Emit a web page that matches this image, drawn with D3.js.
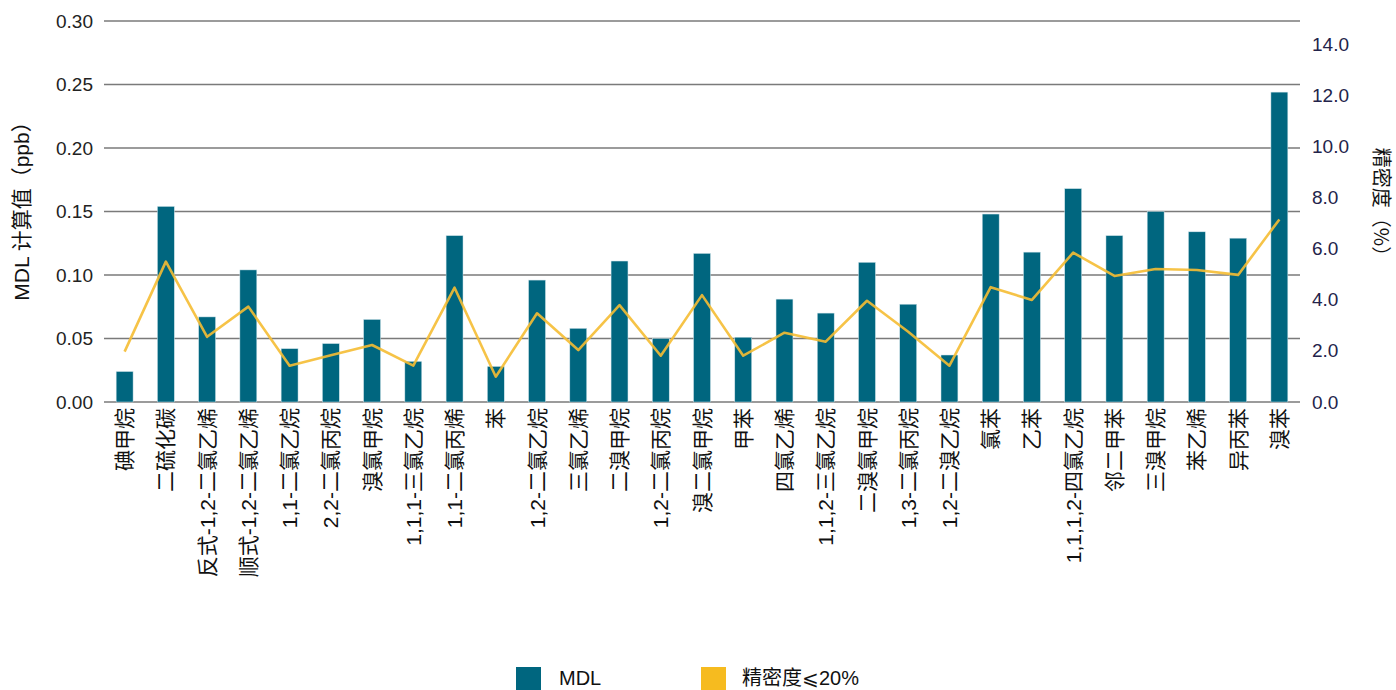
<!DOCTYPE html>
<html>
<head>
<meta charset="utf-8">
<script src="https://cdn.jsdelivr.net/npm/d3@7"></script>
<style>
  body { margin: 0; background: #fff; }
  svg { display: block; font-family: 'Liberation Sans', Arial, 'Noto Sans CJK SC', sans-serif; }
</style>
</head>
<body>
<div id="chart"></div>
<script>
const categories = [
  '碘甲烷', '二硫化碳', '反式-1,2-二氯乙烯', '顺式-1,2-二氯乙烯', '1,1-二氯乙烷',
  '2,2-二氯丙烷', '溴氯甲烷', '1,1,1-三氯乙烷', '1,1-二氯丙烯', '苯',
  '1,2-二氯乙烷', '三氯乙烯', '二溴甲烷', '1,2-二氯丙烷', '溴二氯甲烷',
  '甲苯', '四氯乙烯', '1,1,2-三氯乙烷', '二溴氯甲烷', '1,3-二氯丙烷',
  '1,2-二溴乙烷', '氯苯', '乙苯', '1,1,1,2-四氯乙烷', '邻二甲苯',
  '三溴甲烷', '苯乙烯', '异丙苯', '溴苯'
];
const mdlValues = [
  0.024, 0.154, 0.067, 0.104, 0.042,
  0.046, 0.065, 0.032, 0.131, 0.028,
  0.096, 0.058, 0.111, 0.050, 0.117,
  0.051, 0.081, 0.070, 0.110, 0.077,
  0.037, 0.148, 0.118, 0.168, 0.131,
  0.150, 0.134, 0.129, 0.244
];
const precisionValues = [
  1.97, 5.49, 2.55, 3.73, 1.42,
  1.83, 2.23, 1.42, 4.47, 0.99,
  3.47, 2.03, 3.79, 1.81, 4.18,
  1.81, 2.71, 2.36, 3.96, 2.75,
  1.42, 4.49, 3.99, 5.84, 4.93,
  5.20, 5.16, 4.97, 7.14
];
const leftTicks = [0, 0.05, 0.10, 0.15, 0.20, 0.25, 0.30];
const rightTicks = [0, 2, 4, 6, 8, 10, 12, 14];
const legendItems = ['MDL', '精密度⩽20%'];

const width = 1396;
const height = 690;
const margin = {top: 21, right: 96, bottom: 288, left: 104};
const barColor = '#00667f';
const lineColor = '#f5bd33';
const gridColor = '#7a7a7a';

const svg = d3.select('#chart').append('svg')
  .attr('width', width)
  .attr('height', height);

const x = d3.scaleBand()
  .domain(categories)
  .range([margin.left, width - margin.right])
  .paddingInner(0.59)
  .paddingOuter(0.295);

const yLeft = d3.scaleLinear()
  .domain([0, 0.30])
  .range([height - margin.bottom, margin.top]);

// right axis: 14.0 sits below the top gridline
const yRight = d3.scaleLinear()
  .domain([0, 14.9])
  .range([height - margin.bottom, margin.top]);

// gridlines
svg.append('g')
  .selectAll('line')
  .data(leftTicks)
  .join('line')
  .attr('x1', margin.left)
  .attr('x2', width - margin.right)
  .attr('y1', (d) => yLeft(d))
  .attr('y2', (d) => yLeft(d))
  .attr('stroke', gridColor)
  .attr('stroke-width', 1.6);

// left axis
const leftAxis = svg.append('g')
  .attr('transform', `translate(${margin.left},0)`)
  .call(d3.axisLeft(yLeft).tickValues(leftTicks).tickFormat(d3.format('.2f')).tickSize(0).tickPadding(11));
leftAxis.select('.domain').remove();
leftAxis.selectAll('text')
  .attr('font-size', 19)
  .attr('font-family', "'Liberation Sans', Arial, sans-serif")
  .attr('fill', '#222');

// right axis
const rightAxis = svg.append('g')
  .attr('transform', `translate(${width - margin.right},0)`)
  .call(d3.axisRight(yRight).tickValues(rightTicks).tickFormat(d3.format('.1f')).tickSize(0).tickPadding(12));
rightAxis.select('.domain').remove();
rightAxis.selectAll('text')
  .attr('font-size', 19)
  .attr('font-family', "'Liberation Sans', Arial, sans-serif")
  .attr('fill', '#23234a');

// bars
svg.append('g')
  .selectAll('rect')
  .data(mdlValues)
  .join('rect')
  .attr('x', (d, i) => x(categories[i]))
  .attr('width', x.bandwidth())
  .attr('y', (d) => yLeft(d))
  .attr('height', (d) => yLeft(0) - yLeft(d))
  .attr('fill', barColor)
  .attr('stroke', '#cfe3ea')
  .attr('stroke-width', 0.5);

// precision line
const line = d3.line()
  .x((d, i) => x(categories[i]) + x.bandwidth() / 2)
  .y((d) => yRight(d));

svg.append('path')
  .datum(precisionValues)
  .attr('d', line)
  .attr('fill', 'none')
  .attr('stroke', lineColor)
  .attr('stroke-width', 2.6)
  .attr('stroke-linejoin', 'round')
  .attr('opacity', 0.9);

// x labels, rotated
svg.append('g')
  .selectAll('text')
  .data(categories)
  .join('text')
  .attr('transform', (d) => `translate(${x(d) + x.bandwidth() / 2},${yLeft(0) + 6}) rotate(-90)`)
  .attr('text-anchor', 'end')
  .attr('dy', '0.36em')
  .attr('font-size', 21)
  .attr('font-family', "'Liberation Sans', Arial, 'Noto Sans CJK SC', sans-serif")
  .attr('fill', '#111')
  .text((d) => d);

// axis titles
svg.append('text')
  .attr('transform', `translate(22,206) rotate(-90)`)
  .attr('text-anchor', 'middle')
  .attr('dy', '0.35em')
  .attr('font-size', 21)
  .attr('fill', '#111')
  .text('MDL 计算值（ppb）');

svg.append('text')
  .attr('transform', `translate(1381,207) rotate(90)`)
  .attr('text-anchor', 'middle')
  .attr('dy', '0.35em')
  .attr('font-size', 20)
  .attr('font-family', "'Noto Sans CJK SC', 'Liberation Sans', sans-serif")
  .attr('fill', '#111')
  .text('精密度（%）');

// legend
const legendX = [516, 701];
const legendColors = [barColor, '#f6bb1f'];
const lg = svg.append('g')
  .selectAll('g')
  .data(legendItems)
  .join('g')
  .attr('transform', (d, i) => `translate(${legendX[i]},667)`);

lg.append('rect')
  .attr('width', 25)
  .attr('height', 25)
  .attr('fill', (d, i) => legendColors[i]);

lg.append('text')
  .attr('x', (d, i) => i === 0 ? 43 : 41)
  .attr('y', 18)
  .attr('font-size', 20)
  .attr('fill', '#111')
  .text((d) => d);
</script>
</body>
</html>
